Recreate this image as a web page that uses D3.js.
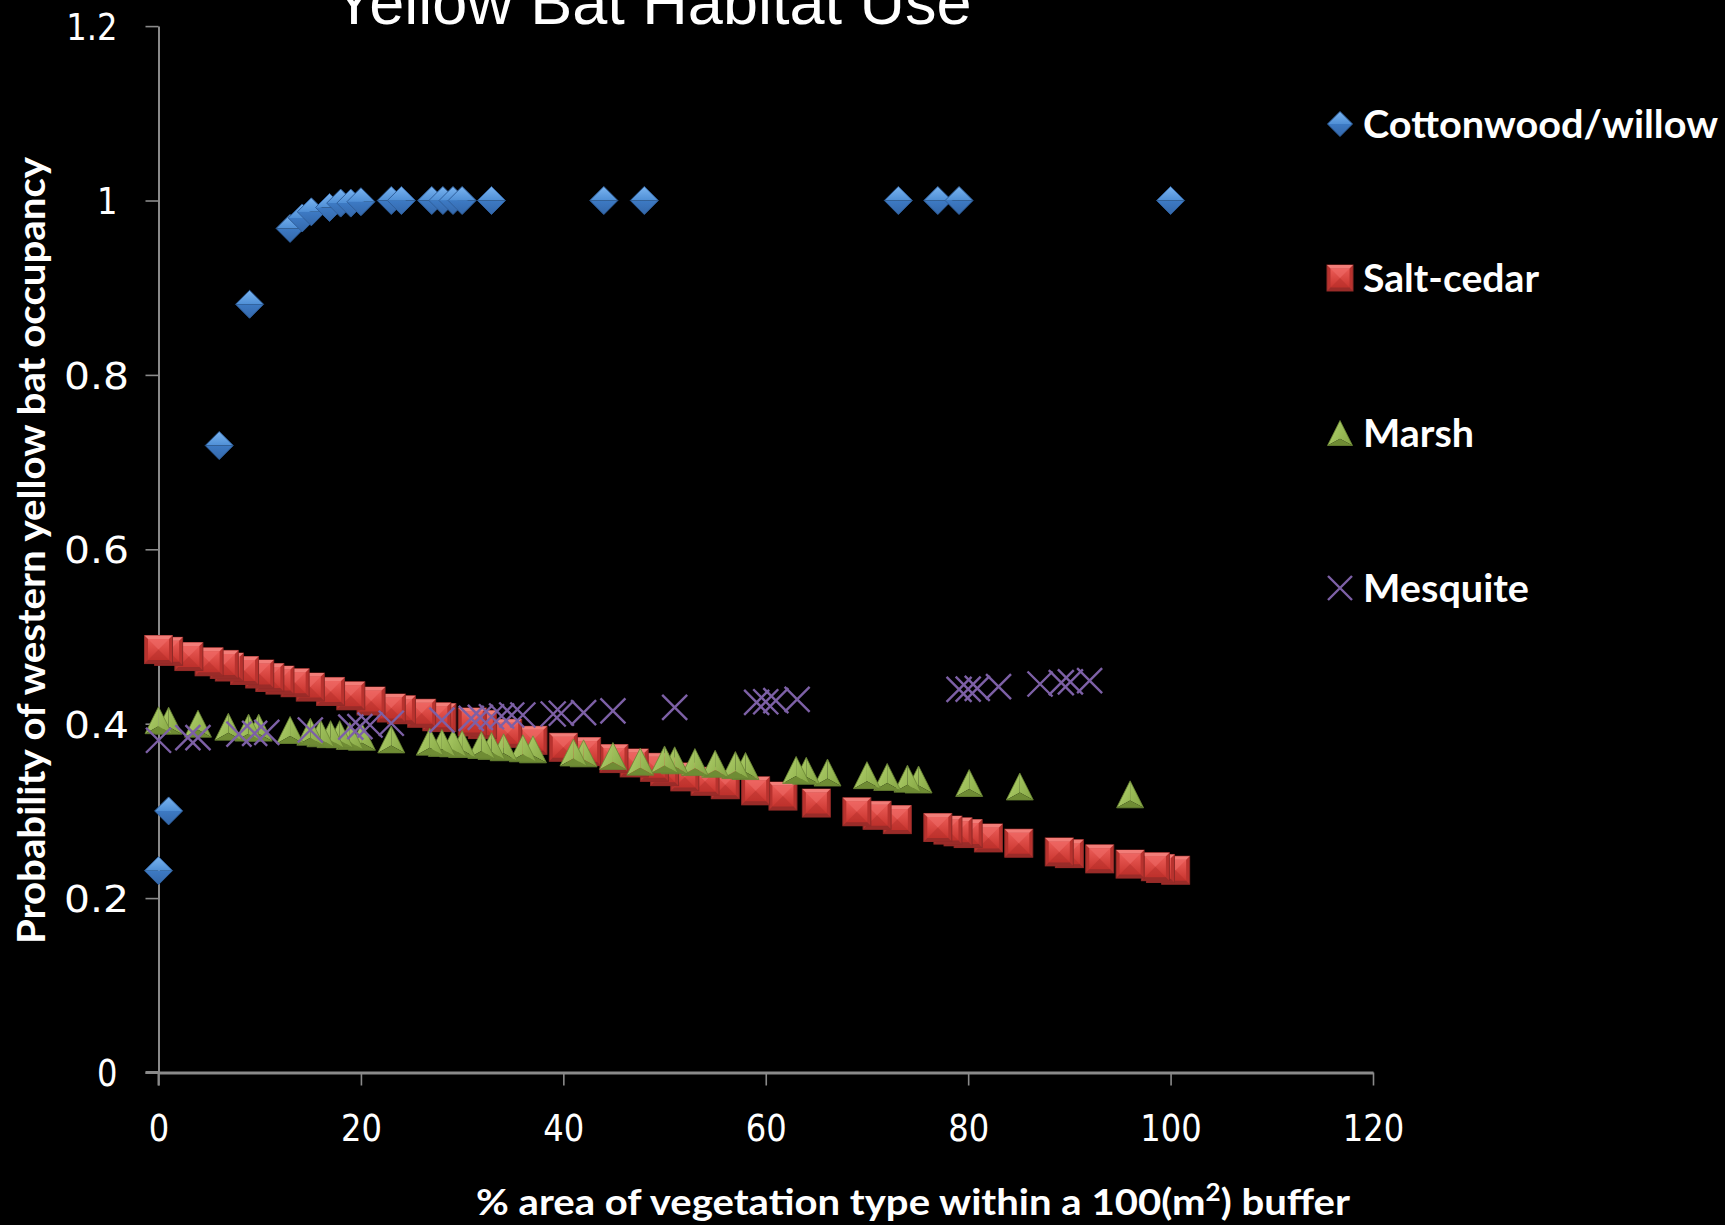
<!DOCTYPE html>
<html>
<head>
<meta charset="utf-8">
<script src="https://cdn.jsdelivr.net/npm/d3@7"></script>
<style>
  html, body { margin: 0; padding: 0; background: #000; }
  svg { display: block; }
</style>
</head>
<body>
<svg id="chart" width="1725" height="1225"></svg>
<script>
// ---------------- DATA ----------------
const titleText = "Yellow Bat Habitat Use";
const xTitle = "% area of vegetation type within a 100(m";
const xTitleSup = "2";
const xTitleEnd = ") buffer";
const yTitle = "Probability of western  yellow bat occupancy";

const xTicks = [0, 20, 40, 60, 80, 100, 120];
const xTickLabels = ["0", "20", "40", "60", "80", "100", "120"];
const yTicks = [0, 0.2, 0.4, 0.6, 0.8, 1, 1.2];
const yTickLabels = ["0", "0.2", "0.4", "0.6", "0.8", "1", "1.2"];

const seriesNames = ["Cottonwood/willow", "Salt-cedar", "Marsh", "Mesquite"];

const cottonX = [0, 1, 6, 9, 13, 14.2, 15.1, 16.9, 18, 19, 20, 23, 24, 27, 28.1, 29.1, 30, 32.9, 44, 48, 73.1, 77, 79.1, 100];
const cottonY = [0.2315, 0.300, 0.719, 0.881, 0.968, 0.980, 0.987, 0.992, 0.997, 0.997, 0.9986, 1, 1, 1, 1, 1, 1, 1, 1, 1, 1, 1, 1, 1];

const saltX = [100.5, 99, 98.5, 96, 93, 90, 89, 85, 82, 80, 79, 78, 77, 73, 71, 69, 65, 61.7, 59, 56, 54, 52, 50, 49, 47, 45, 42.3, 40, 37, 34.5, 32, 31, 28, 27.5, 26, 24, 23, 21, 19, 17, 15, 13.5, 12, 11, 10, 8.5, 7, 6.5, 5, 3, 1, 0];
const saltY = [0.232, 0.234, 0.236, 0.239, 0.245, 0.251, 0.253, 0.263, 0.269, 0.274, 0.276, 0.278, 0.281, 0.290, 0.295, 0.299, 0.309, 0.317, 0.323, 0.330, 0.334, 0.339, 0.345, 0.350, 0.355, 0.360, 0.368, 0.373, 0.381, 0.389, 0.399, 0.402, 0.407, 0.408, 0.412, 0.416, 0.418, 0.426, 0.432, 0.437, 0.442, 0.447, 0.450, 0.453, 0.457, 0.461, 0.465, 0.468, 0.471, 0.477, 0.483, 0.485];

const marshX = [96, 85.1, 80.1, 75.1, 74, 72, 70, 66.1, 64, 63, 58, 57, 55, 53, 51, 50, 47.6, 44.9, 42, 41, 37, 36, 34.1, 32.9, 31.9, 30, 29.1, 28, 26.8, 23, 20.1, 18.9, 17.9, 17, 16, 15, 13, 9.9, 8.9, 6.9, 3.9, 1, 0];
const marshY = [0.319, 0.328, 0.332, 0.336, 0.337, 0.339, 0.341, 0.344, 0.346, 0.347, 0.3515, 0.3526, 0.354, 0.356, 0.358, 0.359, 0.3565, 0.363, 0.366, 0.367, 0.3706, 0.3718, 0.373, 0.3745, 0.3756, 0.3767, 0.3775, 0.378, 0.3794, 0.382, 0.385, 0.386, 0.388, 0.388, 0.389, 0.3908, 0.3928, 0.3955, 0.3955, 0.3966, 0.400, 0.4035, 0.404];

const mesqX = [0, 2.9, 3.9, 7.95, 9.5, 10.7, 15, 19, 19.9, 20.9, 23, 28, 30.9, 31.8, 32.9, 33.9, 34.9, 36, 39, 39.8, 42, 44.9, 51, 59.1, 60, 61, 63.1, 79.1, 80, 80.9, 83, 87.1, 89.2, 90.1, 92];
const mesqY = [0.381, 0.384, 0.384, 0.388, 0.389, 0.390, 0.3928, 0.396, 0.3966, 0.3985, 0.4005, 0.4042, 0.406, 0.4073, 0.408, 0.4088, 0.41, 0.41, 0.4111, 0.412, 0.4126, 0.4146, 0.4188, 0.4245, 0.4252, 0.4264, 0.428, 0.4394, 0.4397, 0.4406, 0.4425, 0.4455, 0.447, 0.448, 0.4493];

// ---------------- LAYOUT ----------------
const svg = d3.select("#chart");
svg.append("rect").attr("width", 1725).attr("height", 1225).attr("fill", "#000");

const x = d3.scaleLinear().domain([0, 120]).range([158.5, 1373]);
const y = d3.scaleLinear().domain([0, 1.2]).range([1072.5, 26.1]);

const tickFont = "'DejaVu Sans', Verdana, sans-serif";
const boldFont = "Lato, 'Open Sans', sans-serif";

// gradients
const defs = svg.append("defs");
function lin(id, stops, x1, y1, x2, y2) {
  const g = defs.append("linearGradient").attr("id", id)
    .attr("x1", x1).attr("y1", y1).attr("x2", x2).attr("y2", y2);
  stops.forEach(s => g.append("stop").attr("offset", s[0]).attr("stop-color", s[1]));
}
lin("dTop", [[0, "#7ab4f0"], [1, "#4f8fd6"]], 0, 0, 0, 1);
lin("dBot", [[0, "#3d7ac4"], [1, "#3468ab"]], 0, 0, 0, 1);
lin("sFace", [[0, "#ea5b56"], [1, "#c9352f"]], 0, 0, 0, 1);
lin("tLeft", [[0, "#b5d372"], [1, "#94b650"]], 0, 0, 1, 1);
lin("tRight", [[0, "#a3c460"], [1, "#84a542"]], 0, 0, 1, 1);

// ---------------- AXES ----------------
const xAxis = d3.axisBottom(x).tickValues(xTicks)
  .tickFormat((d, i) => xTickLabels[i]).tickSize(13).tickSizeOuter(0);
const yAxis = d3.axisLeft(y).tickValues(yTicks)
  .tickFormat((d, i) => yTickLabels[i]).tickSize(13).tickSizeOuter(0);

const gx = svg.append("g").attr("transform", `translate(0,${y(0)})`).call(xAxis);
const gy = svg.append("g").attr("transform", `translate(${x(0)},0)`).call(yAxis);

[gx, gy].forEach(g => {
  g.selectAll("path.domain").attr("stroke", "#8a8a8a");
  g.selectAll(".tick line").attr("stroke", "#8a8a8a").attr("stroke-width", 1.6);
  g.selectAll("text").attr("fill", "#fff").attr("font-family", tickFont).attr("font-size", 37);
});
gx.select("path.domain").attr("stroke-width", 3);
gy.select("path.domain").attr("stroke-width", 2);
// y axis extends below x axis by tick length
svg.append("line").attr("x1", x(0)).attr("x2", x(0)).attr("y1", y(0)).attr("y2", y(0) + 13)
  .attr("stroke", "#8a8a8a").attr("stroke-width", 2);
svg.append("line").attr("x1", x(0) - 13).attr("x2", x(0)).attr("y1", y(0)).attr("y2", y(0))
  .attr("stroke", "#8a8a8a").attr("stroke-width", 3);

// x tick labels: slightly condensed digits
gx.selectAll("text").attr("y", 55.5).attr("dy", "0.36em")
  .each(function () {
    const t = d3.select(this);
    t.attr("textLength", this.getComputedTextLength() * 0.87).attr("lengthAdjust", "spacingAndGlyphs");
  });
// y tick labels: the decimal labels are wide and sit further right
gy.selectAll("text").attr("dy", "0.36em")
  .each(function () {
    const t = d3.select(this);
    const s = t.text();
    const dec = s.startsWith("0.");
    const w = dec ? 65 : this.getComputedTextLength() * 0.87;
    t.attr("x", dec ? -29.5 : -41).attr("textLength", w).attr("lengthAdjust", "spacingAndGlyphs");
  });

// ---------------- MARKERS ----------------
function drawDiamond(g, s) {
  const h = s / 2;
  g.append("path").attr("d", `M${-h},0 L0,${-h} L${h},0 Z`).attr("fill", "url(#dTop)");
  g.append("path").attr("d", `M${-h},0 L${h},0 L0,${h} Z`).attr("fill", "url(#dBot)");
  g.append("path").attr("d", `M${-h},0 L0,${-h} L${h},0 L0,${h} Z`)
    .attr("fill", "none").attr("stroke", "#2f5f9c").attr("stroke-width", 1);
}
function drawSquare(g, s) {
  const h = s / 2, i = h - 3.5;
  g.append("rect").attr("x", -h).attr("y", -h).attr("width", s).attr("height", s)
    .attr("fill", "#b8322e").attr("stroke", "#8e2a27").attr("stroke-width", 1);
  g.append("rect").attr("x", -i).attr("y", -i).attr("width", 2 * i).attr("height", 2 * i).attr("fill", "url(#sFace)");
  g.append("path").attr("d", `M${-i},${-i} L${i},${-i} L0,0 Z`).attr("fill", "#f06e69").attr("opacity", 0.55);
  g.append("path").attr("d", `M${-i},${i} L${i},${i} L0,0 Z`).attr("fill", "#b22c28").attr("opacity", 0.45);
  g.append("path").attr("d", `M${-h},${-h} L${h},${-h} L${i},${-i} L${-i},${-i} Z`).attr("fill", "#f27d78");
  g.append("path").attr("d", `M${-h},${h} L${h},${h} L${i},${i} L${-i},${i} Z`).attr("fill", "#9a2b28");
}
function drawTriangle(g, s) {
  const w = s * 0.5, h = s / 2, cy = h * 0.45;
  g.append("path").attr("d", `M0,${-h} L${-w},${h} L0,${cy} Z`).attr("fill", "url(#tLeft)");
  g.append("path").attr("d", `M0,${-h} L${w},${h} L0,${cy} Z`).attr("fill", "url(#tRight)");
  g.append("path").attr("d", `M${-w},${h} L${w},${h} L0,${cy} Z`).attr("fill", "#6f8c34");
  g.append("path").attr("d", `M0,${-h} L${-w},${h} L${w},${h} Z`)
    .attr("fill", "none").attr("stroke", "#6a8533").attr("stroke-width", 0.8);
}
function drawX(g, s) {
  const h = s / 2;
  g.append("path").attr("d", `M${-h},${-h} L${h},${h} M${-h},${h} L${h},${-h}`)
    .attr("stroke", "#7d60a6").attr("stroke-width", 2.4).attr("fill", "none");
}

const series = [
  { xs: cottonX, ys: cottonY, draw: drawDiamond, size: 28 },
  { xs: saltX, ys: saltY, draw: drawSquare, size: 28 },
  { xs: marshX, ys: marshY, draw: drawTriangle, size: 27 },
  { xs: mesqX, ys: mesqY, draw: drawX, size: 25 }
];

series.forEach(sr => {
  const pts = sr.xs.map((v, i) => ({ x: v, y: sr.ys[i] }));
  const gs = svg.append("g");
  gs.selectAll("g").data(pts).join("g")
    .attr("transform", d => `translate(${x(d.x)},${y(d.y)})`)
    .each(function () { sr.draw(d3.select(this), sr.size); });
});

// ---------------- LEGEND ----------------
const legY = [124, 278, 433, 588];
const legW = [355, 176, 111, 166];
const legSize = [25, 26, 25, 24];
series.forEach((sr, i) => {
  const g = svg.append("g").attr("transform", `translate(1340,${legY[i]})`);
  sr.draw(g, legSize[i]);
  svg.append("text").attr("x", 1363).attr("y", legY[i] + 14)
    .attr("fill", "#fff").attr("font-family", boldFont).attr("font-weight", 700)
    .attr("font-size", 39).attr("textLength", legW[i]).attr("lengthAdjust", "spacingAndGlyphs")
    .text(seriesNames[i]);
});

// ---------------- TITLES ----------------
svg.append("text").attr("x", 333).attr("y", 24)
  .attr("fill", "#fff").attr("font-family", "'Liberation Sans', Arial, sans-serif")
  .attr("font-size", 63).text(titleText);

svg.append("text")
  .attr("transform", "translate(45,550.5) rotate(-90)")
  .attr("text-anchor", "middle").attr("fill", "#fff")
  .attr("font-family", boldFont).attr("font-weight", 700).attr("font-size", 38)
  .attr("textLength", 787).attr("lengthAdjust", "spacingAndGlyphs")
  .text(yTitle);

const xt = svg.append("text").attr("x", 913).attr("y", 1215)
  .attr("text-anchor", "middle").attr("fill", "#fff")
  .attr("font-family", boldFont).attr("font-weight", 700).attr("font-size", 37)
  .attr("textLength", 874).attr("lengthAdjust", "spacingAndGlyphs");
xt.append("tspan").text(xTitle);
xt.append("tspan").attr("font-size", 24).attr("dy", -14).text(xTitleSup);
xt.append("tspan").attr("dy", 14).text(xTitleEnd);
</script>
</body>
</html>
